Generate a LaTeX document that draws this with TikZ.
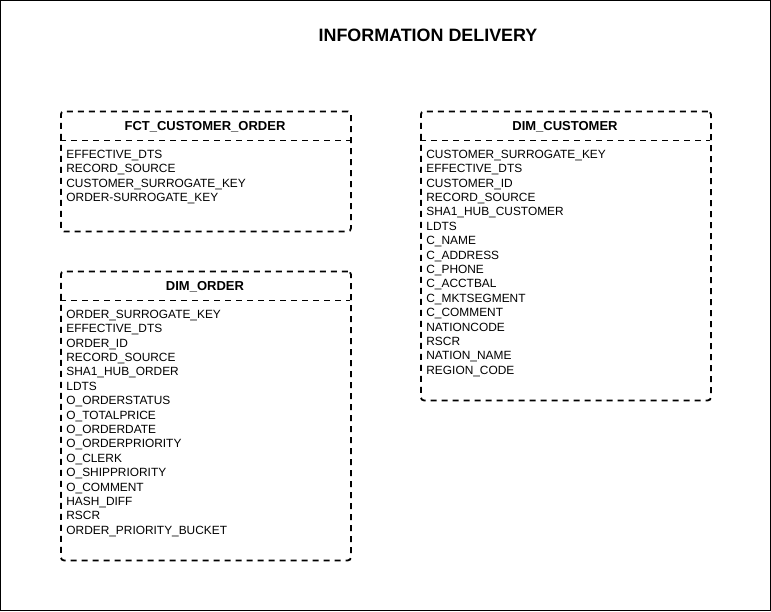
\documentclass[tikz,border=0pt]{standalone}
\usepackage{fontspec}
\setmainfont{Liberation Sans}

\begin{document}
\begin{tikzpicture}[x=1pt, y=-1pt, thick]

		\tikzstyle{tbl}=[rectangle, draw, dash pattern=on 6pt off 5pt, line width=1.8pt, rounded corners=3pt, inner sep=0pt, anchor=north west, minimum width=290pt]
		\tikzstyle{sep}=[draw, dash pattern=on 6pt off 5pt, line width=1.8pt]
		\tikzstyle{head}=[anchor=base, inner sep=0pt, font=\fontsize{13}{15.6}\selectfont\bfseries]
		\tikzstyle{fields}=[anchor=north west, align=left, inner sep=0pt, font=\fontsize{11.9}{14.4}\selectfont]

		\useasboundingbox (0,0) rectangle (771,611);
		\draw[line width=1pt] (0.5,0.5) rectangle (770,610);

		\node[anchor=base, inner sep=0pt, font=\fontsize{17.9}{21}\selectfont\bfseries] (title) at (428,41) {INFORMATION DELIVERY};

		% Fact table
		\node[tbl, minimum height=120pt] (fco) at (60,110.5) {};
		\draw[sep] (60,140.5) -- (350,140.5);
		\node[head] (fcoh) at (205,130.5) {FCT\_CUSTOMER\_ORDER};
		\node[fields] (fcof) at (66,149.6) {EFFECTIVE\_DTS\\RECORD\_SOURCE\\CUSTOMER\_SURROGATE\_KEY\\ORDER-SURROGATE\_KEY};

		% Customer dimension
		\node[tbl, minimum height=289pt] (dc) at (420,110.5) {};
		\draw[sep] (420,140.5) -- (710,140.5);
		\node[head] (dch) at (565,130.5) {DIM\_CUSTOMER};
		\node[fields] (dcf) at (426,149.6) {CUSTOMER\_SURROGATE\_KEY\\EFFECTIVE\_DTS\\CUSTOMER\_ID\\RECORD\_SOURCE\\SHA1\_HUB\_CUSTOMER\\LDTS\\C\_NAME\\C\_ADDRESS\\C\_PHONE\\C\_ACCTBAL\\C\_MKTSEGMENT\\C\_COMMENT\\NATIONCODE\\RSCR\\NATION\_NAME\\REGION\_CODE};

		% Order dimension
		\node[tbl, minimum height=289pt] (do) at (60,270.5) {};
		\draw[sep] (60,300.5) -- (350,300.5);
		\node[head] (doh) at (205,290.5) {DIM\_ORDER};
		\node[fields] (dof) at (66,309.6) {ORDER\_SURROGATE\_KEY\\EFFECTIVE\_DTS\\ORDER\_ID\\RECORD\_SOURCE\\SHA1\_HUB\_ORDER\\LDTS\\O\_ORDERSTATUS\\O\_TOTALPRICE\\O\_ORDERDATE\\O\_ORDERPRIORITY\\O\_CLERK\\O\_SHIPPRIORITY\\O\_COMMENT\\HASH\_DIFF\\RSCR\\ORDER\_PRIORITY\_BUCKET};

\end{tikzpicture}
\end{document}
